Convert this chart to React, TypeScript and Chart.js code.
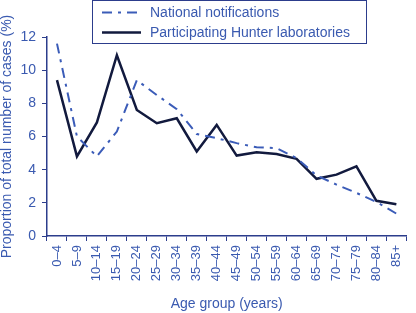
import React, { useEffect, useRef } from "react";
import { Chart, registerables } from "chart.js";

Chart.register(...registerables);

const ageGroups = ["0–4","5–9","10–14","15–19","20–24","25–29","30–34","35–39","40–44","45–49","50–54","55–59","60–64","65–69","70–74","75–79","80–84","85+"];
const nationalNotifications = [11.6, 6.0, 4.8, 6.3, 9.4, 8.5, 7.65, 6.15, 5.9, 5.6, 5.35, 5.3, 4.7, 3.65, 3.1, 2.6, 2.05, 1.35];
const hunterLabs = [9.4, 4.8, 6.85, 10.9, 7.6, 6.8, 7.1, 5.1, 6.7, 4.85, 5.05, 4.95, 4.65, 3.45, 3.7, 4.2, 2.12, 1.92];
const seriesNames = ["National notifications", "Participating Hunter laboratories"];

const TEXT = "#3a5ab0";
const AXIS = "#2c3d8c";
const NAT = "#3b5cb8";
const HUN = "#121a3e";
const FONT = "'Liberation Sans', Arial, Helvetica, sans-serif";

const legendBox = {
  id: "legendBox",
  afterDraw(chart: any) {
    const ctx = chart.ctx;
    ctx.save();
    ctx.fillStyle = "#ffffff";
    ctx.fillRect(92, 0, 275, 44);
    ctx.strokeStyle = AXIS;
    ctx.lineWidth = 1;
    ctx.strokeRect(92.5, 0.5, 274, 43);
    const rows = [
      { y: 12.5, color: NAT, dash: [10, 6, 3, 6], w: 2, label: seriesNames[0] },
      { y: 32.5, color: HUN, dash: [], w: 2.5, label: seriesNames[1] },
    ];
    ctx.font = `14px ${FONT}`;
    ctx.textBaseline = "middle";
    ctx.textAlign = "left";
    for (const r of rows) {
      ctx.beginPath();
      ctx.setLineDash(r.dash);
      ctx.strokeStyle = r.color;
      ctx.lineWidth = r.w;
      ctx.moveTo(102, r.y);
      ctx.lineTo(141, r.y);
      ctx.stroke();
      ctx.setLineDash([]);
      ctx.fillStyle = TEXT;
      ctx.fillText(r.label, 150, r.y + 0.5);
    }
    ctx.restore();
  },
};

export default function App() {
  const ref = useRef<HTMLCanvasElement | null>(null);
  useEffect(() => {
    if (!ref.current) return;
    const chart = new Chart(ref.current, {
      type: "line",
      data: {
        labels: ageGroups,
        datasets: [
          {
            label: seriesNames[0],
            data: nationalNotifications,
            borderColor: NAT,
            borderWidth: 2,
            borderDash: [10, 6, 3, 6],
            pointRadius: 0,
            tension: 0,
            fill: false,
          },
          {
            label: seriesNames[1],
            data: hunterLabs,
            borderColor: HUN,
            borderWidth: 2.5,
            pointRadius: 0,
            tension: 0,
            fill: false,
          },
        ],
      },
      options: {
        responsive: false,
        animation: false,
        events: [],
        layout: { padding: { top: 37, right: 1, left: 0, bottom: 0 } },
        plugins: { legend: { display: false }, tooltip: { enabled: false } },
        scales: {
          x: {
            offset: true,
            grid: { display: true, drawOnChartArea: false, offset: true, tickLength: 5, color: AXIS, tickWidth: 1 },
            border: { display: true, color: AXIS, width: 1.5 },
            ticks: {
              color: TEXT,
              font: { family: FONT, size: 13 },
              minRotation: 90,
              maxRotation: 90,
              padding: 4,
              autoSkip: false,
            },
            title: {
              display: true,
              text: "Age group (years)",
              color: TEXT,
              font: { family: FONT, size: 14, lineHeight: 1 },
              padding: { top: 0, bottom: 2 },
            },
            afterFit(scale: any) {
              scale.height = 77;
            },
          },
          y: {
            min: 0,
            max: 12,
            ticks: { stepSize: 2, color: TEXT, font: { family: FONT, size: 14 }, padding: 6 },
            grid: { display: true, drawOnChartArea: false, tickLength: 5, color: AXIS, tickWidth: 1 },
            border: { display: true, color: AXIS, width: 1.5 },
            title: {
              display: true,
              text: "Proportion of total number of cases (%)",
              color: TEXT,
              font: { family: FONT, size: 14, lineHeight: 1 },
              padding: { top: 0, bottom: 0 },
            },
            afterFit(scale: any) {
              scale.width = 47;
            },
          },
        },
      },
      plugins: [legendBox],
    });
    return () => chart.destroy();
  }, []);
  return (
    <div style={{ position: "absolute", left: 0, top: 0, width: 416, height: 313, background: "#fff" }}>
      <canvas ref={ref} width={416} height={313} style={{ display: "block" }} />
    </div>
  );
}
